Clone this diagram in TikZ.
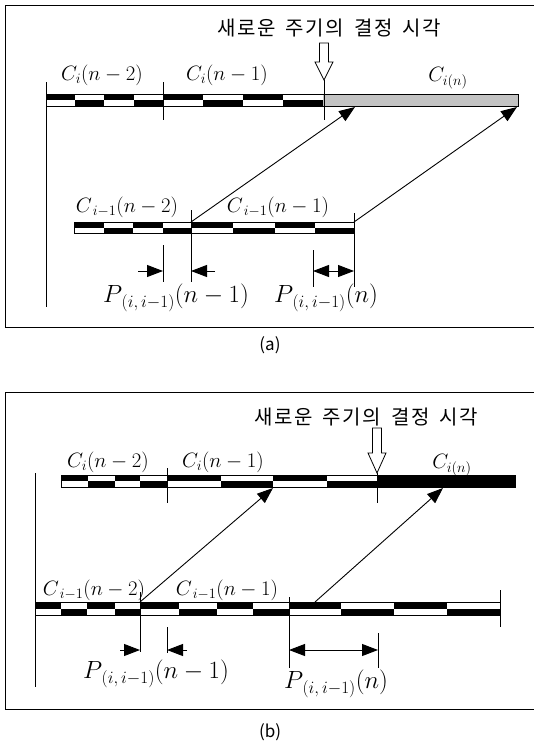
\documentclass[tikz,border=0pt]{standalone}
\usepackage{fontspec}
\newfontfamily\krfont{Noto Sans CJK KR}
\usetikzlibrary{arrows.meta}
\DeclareMathSizes{20}{20}{14}{10}
\DeclareMathSizes{24}{24}{17}{12}
\definecolor{BarGray}{RGB}{195, 195, 195}

% bar of a cycle: black halves alternate top / bottom
\newcommand{\railbar}[3]{%
  \foreach \xa/\xb [count=\k] in {#3} {
    \ifodd\k
      \fill (\xa,#1) rectangle (\xb,{(#1+#2)/2});
    \else
      \fill (\xa,{(#1+#2)/2}) rectangle (\xb,#2);
    \fi
  }}

\begin{document}
\begin{tikzpicture}[
    x=1pt, y=-1pt,
    frame/.style={line width=1pt},
    tick/.style={line width=0.9pt},
    barline/.style={draw, line width=0.8pt},
    link/.style={-{Triangle[length=16pt,width=12pt]}, line width=0.9pt},
    gap/.style={-{Triangle[length=16pt,width=12pt]}, line width=0.9pt},
    gaps/.style={{Triangle[length=16pt,width=12pt]}-{Triangle[length=16pt,width=12pt]}, line width=0.9pt},
    hollow/.style={draw, fill=white, line width=0.8pt},
    cyc/.style={font=\fontsize{20}{23}\selectfont, inner sep=0pt},
    per/.style={font=\fontsize{24}{27}\selectfont, inner sep=0pt},
    note/.style={font=\krfont\fontsize{20}{23}\selectfont\addfontfeature{LetterSpace=8}, inner sep=0pt},
    figcap/.style={font=\krfont\fontsize{17}{20}\selectfont, inner sep=0pt}
  ]
    \useasboundingbox (0,0) rectangle (534,744);

    %% (a)
    \draw[frame] (536,5) -- (5,5) -- (5,327) -- (536,327);
    \node[note] (timeA) at (329,28) {새로운\hspace{10pt}주기의\hspace{10pt}결정\hspace{10pt}시각};
    \draw[hollow] (319.5,43) -- (328.5,43) -- (328.5,62) -- (333,62) -- (324,80) -- (315,62) -- (319.5,62) -- cycle;

    \railbar{94}{106}{46/75,75/104,104/134,134/163,163/203,203/243,243/283,283/323}
    \fill[BarGray] (323,94) rectangle (518,106);
    \draw[barline] (46,94) rectangle (518,106);
    \draw[tick] (46,82) -- (46,307);
    \draw[tick] (163,82) -- (163,120);
    \draw[tick] (324,80) -- (324,120);
    \node[cyc] (ciA2) at (102,75) {$C_i(n-2)$};
    \node[cyc] (ciA1) at (227,75) {$C_i(n-1)$};
    \node[cyc] (ciA0) at (448,78) {$C_{i(n)}$};

    \railbar{222}{233}{74/104,104/133,133/163,163/191,191/233,233/275,275/315,315/354}
    \draw[barline] (74,222) rectangle (354,233);
    \draw[tick] (191,210) -- (191,282);
    \draw[tick] (354,213) -- (354,287);
    \draw[tick] (163,245) -- (163,282);
    \draw[tick] (313,250) -- (313,287);
    \node[cyc] (cjA2) at (127,207) {$C_{\,i-1}(n-2)$};
    \node[cyc] (cjA1) at (278,207) {$C_{\,i-1}(n-1)$};

    \coordinate (upA1) at (191,222);
    \coordinate (upA2) at (354,222);
    \coordinate (topA1) at (355,107);
    \coordinate (topA2) at (517,107);
    \draw[link] (upA1) -- (topA1);
    \draw[link] (upA2) -- (topA2);

    \coordinate (pA1) at (138,271);
    \coordinate (pA2) at (163,271);
    \coordinate (pA3) at (215,271);
    \coordinate (pA4) at (191,271);
    \coordinate (pA5) at (313,271);
    \coordinate (pA6) at (354,271);
    \draw[gap] (pA1) -- (pA2);
    \draw[gap] (pA3) -- (pA4);
    \draw[gaps] (pA5) -- (pA6);
    \node[per] (perA1) at (176,298) {$P_{\,(i,\,i-1)}(n-1)$};
    \node[per] (perA0) at (326,298) {$P_{\,(i,\,i-1)}(n)$};
    \node[figcap] (capA) at (270,345) {(a)};

    %% (b)
    \draw[frame] (536,392) -- (5,392) -- (5,709) -- (536,709);
    \node[note] (timeB) at (366,417) {새로운\hspace{10pt}주기의\hspace{10pt}결정\hspace{10pt}시각};
    \draw[hollow] (372.5,428) -- (381.5,428) -- (381.5,453) -- (386,453) -- (377,473) -- (368,453) -- (372.5,453) -- cycle;

    \railbar{475}{487}{61/88,88/115,115/140,140/167,167/221,221/273,273/327,327/377}
    \fill (377,475) rectangle (515,487);
    \draw[barline] (61,475) rectangle (515,487);
    \draw[tick] (35,473) -- (35,687);
    \draw[tick] (167,468) -- (167,503);
    \draw[tick] (377,473) -- (377,503);
    \node[cyc] (ciB2) at (108,462) {$C_i(n-2)$};
    \node[cyc] (ciB1) at (223,462) {$C_i(n-1)$};
    \node[cyc] (ciB0) at (452,465) {$C_{i(n)}$};

    \railbar{602}{615}{35/61,61/87,87/115,115/140,140/179,179/217,217/253,253/290,290/341,341/394,394/447,447/500}
    \draw[barline] (35,602) rectangle (500,615);
    \draw[tick] (500,590) -- (500,627);
    \draw[tick] (140,592) -- (140,652);
    \draw[tick] (289,597) -- (289,668);
    \draw[tick] (167,627) -- (167,653);
    \draw[tick] (378,633) -- (378,668);
    \node[cyc] (cjB2) at (94,590) {$C_{\,i-1}(n-2)$};
    \node[cyc] (cjB1) at (227,590) {$C_{\,i-1}(n-1)$};

    \coordinate (upB1) at (140,602);
    \coordinate (upB2) at (315,602);
    \coordinate (topB1) at (273,488);
    \coordinate (topB2) at (443,488);
    \draw[link] (upB1) -- (topB1);
    \draw[link] (upB2) -- (topB2);

    \coordinate (pB1) at (120,650);
    \coordinate (pB2) at (140,650);
    \coordinate (pB3) at (187,650);
    \coordinate (pB4) at (167,650);
    \coordinate (pB5) at (289,650);
    \coordinate (pB6) at (378,650);
    \draw[gap] (pB1) -- (pB2);
    \draw[gap] (pB3) -- (pB4);
    \draw[gaps] (pB5) -- (pB6);
    \node[per] (perB1) at (156,674) {$P_{\,(i,\,i-1)}(n-1)$};
    \node[per] (perB0) at (336,684) {$P_{\,(i,\,i-1)}(n)$};
    \node[figcap] (capB) at (270,732) {(b)};
  \end{tikzpicture}
\end{document}
